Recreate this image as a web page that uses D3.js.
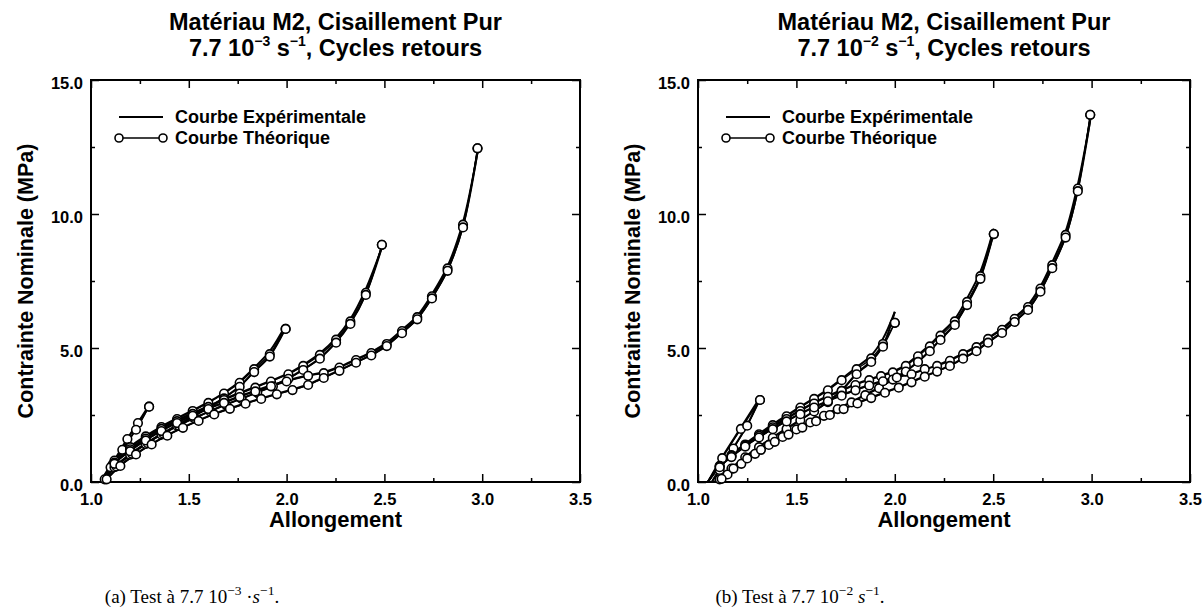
<!DOCTYPE html>
<html><head><meta charset="utf-8">
<script src="https://cdn.jsdelivr.net/npm/d3@7"></script>
<style>body{margin:0;background:#fff}svg{display:block}</style>
</head><body>
<svg id="c" width="1202" height="611"></svg>
<script>
// ---------- tick labels ----------
const xTicks = [1.0, 1.5, 2.0, 2.5, 3.0, 3.5];
const yTicks = [0, 5, 10, 15];
const xMinor = [1.25, 1.75, 2.25, 2.75, 3.25];
const yMinor = [2.5, 7.5, 12.5];

// ---------- Panel (a) 7.7e-3 s^-1 ----------
const lamA1L = [1.05,1.11,1.186,1.24,1.297];
const thA1L  = [0,0.65,1.6,2.2,2.81];
const exA1L  = [0,0.7,1.62,2.22,2.86];
const lamA1U = [1.297,1.23,1.16,1.1,1.05];
const thA1U  = [2.81,1.95,1.2,0.55,0];
const exA1U  = [2.86,1.98,1.22,0.57,0];

const lamA2L = [1.05,1.12,1.2,1.28,1.36,1.44,1.52,1.6,1.68,1.76,1.834,1.914,1.995];
const thA2L  = [0,0.8,1.3,1.7,2.05,2.35,2.65,2.95,3.3,3.7,4.21,4.77,5.71];
const exA2L  = [0,0.82,1.32,1.72,2.07,2.38,2.68,2.98,3.33,3.75,4.26,4.88,5.85];
const lamA2U = [1.995,1.914,1.834,1.76,1.68,1.6,1.52,1.44,1.36,1.28,1.2,1.12,1.06];
const thA2U  = [5.71,4.68,4.1,3.55,3.12,2.76,2.42,2.1,1.77,1.42,1.02,0.55,0.05];
const exA2U  = [5.85,4.72,4.13,3.57,3.14,2.78,2.44,2.12,1.79,1.44,1.04,0.57,0.06];

const lamA3L = [1.05,1.12,1.2,1.28,1.36,1.44,1.52,1.6,1.68,1.76,1.84,1.92,2.009,2.085,2.17,2.253,2.326,2.405,2.487];
const thA3L  = [0,0.72,1.22,1.62,1.98,2.27,2.54,2.8,3.06,3.3,3.52,3.75,4.02,4.33,4.74,5.31,5.99,7.06,8.85];
const exA3L  = [0,0.74,1.24,1.64,2.0,2.3,2.57,2.83,3.09,3.33,3.55,3.78,4.05,4.37,4.8,5.38,6.08,7.2,8.75];
const lamA3U = [2.487,2.405,2.326,2.253,2.17,2.085,2.009,1.93,1.85,1.77,1.69,1.61,1.53,1.45,1.37,1.29,1.21,1.13,1.07];
const thA3U  = [8.85,6.98,5.9,5.2,4.6,4.18,3.85,3.57,3.33,3.1,2.88,2.63,2.38,2.1,1.8,1.45,1.05,0.58,0.1];
const exA3U  = [8.75,7.02,5.95,5.24,4.63,4.2,3.87,3.59,3.35,3.12,2.9,2.65,2.4,2.12,1.82,1.47,1.07,0.6,0.1];

const lamA4L = [1.05,1.12,1.2,1.28,1.36,1.44,1.52,1.6,1.68,1.76,1.84,1.92,2.0,2.11,2.19,2.27,2.355,2.433,2.512,2.59,2.668,2.743,2.823,2.902,2.976];
const thA4L  = [0,0.68,1.15,1.55,1.9,2.2,2.47,2.72,2.95,3.17,3.38,3.57,3.75,3.96,4.06,4.27,4.55,4.81,5.15,5.63,6.15,6.93,7.97,9.6,12.45];
const exA4L  = [0,0.7,1.17,1.57,1.92,2.22,2.5,2.75,2.98,3.2,3.41,3.6,3.78,3.98,4.1,4.3,4.58,4.85,5.2,5.68,6.2,7.0,8.05,9.7,12.3];
const lamA4U = [2.976,2.902,2.823,2.743,2.668,2.59,2.512,2.433,2.355,2.27,2.19,2.11,2.03,1.95,1.87,1.79,1.71,1.63,1.55,1.47,1.39,1.31,1.23,1.15,1.08];
const thA4U  = [12.45,9.5,7.88,6.85,6.07,5.55,5.07,4.72,4.45,4.15,3.88,3.62,3.43,3.27,3.1,2.92,2.73,2.52,2.28,2.02,1.73,1.4,1.03,0.6,0.1];
const exA4U  = [12.3,9.55,7.92,6.88,6.1,5.58,5.1,4.75,4.47,4.17,3.9,3.64,3.45,3.29,3.12,2.94,2.75,2.54,2.3,2.04,1.75,1.42,1.05,0.62,0.1];

// ---------- Panel (b) 7.7e-2 s^-1 ----------
const lamB1L = [1.05,1.123,1.218,1.315];
const thB1L  = [0,0.89,1.98,3.06];
const exB1L  = [0,0.93,2.03,3.15];
const lamB1U = [1.315,1.25,1.18,1.11,1.07];
const thB1U  = [3.06,2.1,1.25,0.45,0];
const exB1U  = [3.15,2.13,1.28,0.48,0];

const lamB2L = [1.05,1.11,1.17,1.24,1.31,1.38,1.45,1.52,1.59,1.66,1.73,1.806,1.88,1.94,2.0];
const thB2L  = [0,0.6,1.0,1.4,1.78,2.12,2.45,2.78,3.1,3.42,3.8,4.21,4.61,5.15,5.94];
const exB2L  = [0,0.62,1.03,1.43,1.8,2.15,2.48,2.81,3.13,3.46,3.85,4.28,4.72,5.35,6.35];
const lamB2U = [2.0,1.94,1.88,1.806,1.73,1.66,1.59,1.52,1.45,1.38,1.31,1.24,1.17,1.11,1.08];
const thB2U  = [5.94,5.05,4.48,4.02,3.4,2.98,2.63,2.3,1.98,1.65,1.3,0.92,0.5,0.1,0];
const exB2U  = [6.35,5.1,4.52,4.05,3.42,3.0,2.65,2.32,2.0,1.67,1.32,0.94,0.52,0.12,0];

const lamB3L = [1.05,1.11,1.17,1.24,1.31,1.38,1.45,1.52,1.59,1.66,1.73,1.8,1.87,1.93,1.99,2.056,2.118,2.178,2.232,2.305,2.367,2.435,2.503];
const thB3L  = [0,0.58,0.97,1.36,1.72,2.04,2.35,2.65,2.93,3.18,3.4,3.62,3.8,3.95,4.09,4.33,4.69,5.06,5.46,5.99,6.72,7.68,9.25];
const exB3L  = [0,0.6,1.0,1.38,1.74,2.07,2.38,2.68,2.96,3.21,3.43,3.65,3.83,3.98,4.12,4.37,4.74,5.12,5.53,6.08,6.85,7.85,9.45];
const lamB3U = [2.503,2.435,2.367,2.305,2.232,2.178,2.118,2.056,1.99,1.92,1.85,1.78,1.71,1.64,1.57,1.5,1.43,1.36,1.29,1.22,1.15,1.09];
const thB3U  = [9.25,7.58,6.6,5.86,5.3,4.88,4.48,4.12,3.82,3.5,3.24,2.97,2.72,2.47,2.22,1.96,1.68,1.38,1.05,0.68,0.28,0];
const exB3U  = [9.45,7.65,6.65,5.9,5.33,4.9,4.5,4.14,3.84,3.52,3.26,2.99,2.74,2.49,2.24,1.98,1.7,1.4,1.07,0.7,0.3,0];

const lamB4L = [1.05,1.11,1.17,1.24,1.31,1.38,1.45,1.52,1.59,1.66,1.73,1.8,1.87,1.94,2.01,2.085,2.152,2.215,2.28,2.347,2.415,2.474,2.545,2.609,2.677,2.74,2.8,2.868,2.93,2.993];
const thB4L  = [0,0.55,0.93,1.32,1.66,1.97,2.26,2.53,2.78,3.01,3.22,3.42,3.6,3.76,3.9,4.02,4.21,4.33,4.52,4.77,5.03,5.34,5.68,6.09,6.53,7.22,8.09,9.22,10.95,13.7];
const exB4L  = [0,0.57,0.95,1.34,1.68,1.99,2.28,2.55,2.8,3.03,3.24,3.44,3.62,3.78,3.92,4.05,4.2,4.36,4.56,4.8,5.07,5.38,5.73,6.14,6.6,7.3,8.2,9.35,11.1,13.5];
const lamB4U = [2.993,2.93,2.868,2.8,2.74,2.677,2.609,2.545,2.474,2.415,2.347,2.28,2.215,2.152,2.085,2.02,1.95,1.88,1.81,1.74,1.67,1.6,1.53,1.46,1.39,1.32,1.25,1.18,1.12,1.1];
const thB4U  = [13.7,10.85,9.12,7.98,7.1,6.42,5.97,5.56,5.2,4.88,4.6,4.33,4.12,3.93,3.72,3.52,3.33,3.13,2.93,2.72,2.5,2.27,2.03,1.77,1.5,1.2,0.88,0.5,0.12,0];
const exB4U  = [13.5,10.9,9.16,8.02,7.13,6.45,6.0,5.59,5.23,4.9,4.62,4.35,4.14,3.95,3.74,3.54,3.35,3.15,2.95,2.74,2.52,2.29,2.05,1.79,1.52,1.22,0.9,0.52,0.14,0];

const legendLabels = ["Courbe Expérimentale", "Courbe Théorique"];
const xTitle = "Allongement";
const yTitle = "Contrainte Nominale (MPa)";

// ---------- build ----------
const zip = (l, s) => l.map((v, i) => [v, s[i]]);
const panelA = {
  exp: [[lamA1L,exA1L],[lamA1U,exA1U],[lamA2L,exA2L],[lamA2U,exA2U],[lamA3L,exA3L],[lamA3U,exA3U],[lamA4L,exA4L],[lamA4U,exA4U]],
  th:  [[lamA1L,thA1L],[lamA1U,thA1U],[lamA2L,thA2L],[lamA2U,thA2U],[lamA3L,thA3L],[lamA3U,thA3U],[lamA4L,thA4L],[lamA4U,thA4U]],
  exp1: "\u22123", caption: ["(a) Test à 7.7 10", "\u22123", " \u00b7", "s", "\u22121", "."]
};
const panelB = {
  exp: [[lamB1L,exB1L],[lamB1U,exB1U],[lamB2L,exB2L],[lamB2U,exB2U],[lamB3L,exB3L],[lamB3U,exB3U],[lamB4L,exB4L],[lamB4U,exB4U]],
  th:  [[lamB1L,thB1L],[lamB1U,thB1U],[lamB2L,thB2L],[lamB2U,thB2U],[lamB3L,thB3L],[lamB3U,thB3U],[lamB4L,thB4L],[lamB4U,thB4U]],
  exp1: "\u22122", caption: ["(b) Test à 7.7 10", "\u22122", "  ", "s", "\u22121", "."]
};

const svg = d3.select("#c");
const SANS = "'Liberation Sans', Arial, Helvetica, sans-serif";
const SERIF = "'Liberation Serif', 'Times New Roman', serif";

function drawPanel(p, left, right, capX) {
  const top = 80, bottom = 482;
  const x = d3.scaleLinear().domain([1.0, 3.5]).range([left, right]);
  const y = d3.scaleLinear().domain([0, 15]).range([bottom, top]);
  const g = svg.append("g");
  const cx = (left + right) / 2;

  // title
  g.append("text").attr("x", cx).attr("y", 30).attr("text-anchor", "middle")
    .attr("font-family", SANS).attr("font-weight", "bold").attr("font-size", 23.5)
    .text("Matériau M2, Cisaillement Pur");
  const t2 = g.append("text").attr("x", cx).attr("y", 56).attr("text-anchor", "middle")
    .attr("font-family", SANS).attr("font-weight", "bold").attr("font-size", 23.5);
  t2.append("tspan").text("7.7 10");
  t2.append("tspan").attr("dy", -10).attr("font-size", 14).text(p.exp1);
  t2.append("tspan").attr("dy", 10).text(" s");
  t2.append("tspan").attr("dy", -10).attr("font-size", 14).text("\u22121");
  t2.append("tspan").attr("dy", 10).text(", Cycles retours");

  // axes with inward ticks on all sides
  const axB = d3.axisBottom(x).tickValues(xTicks).tickSize(-8).tickFormat(d3.format(".1f"));
  const axT = d3.axisTop(x).tickValues(xTicks).tickSize(-8).tickFormat("");
  const axL = d3.axisLeft(y).tickValues(yTicks).tickSize(-8).tickFormat(d3.format(".1f"));
  const axR = d3.axisRight(y).tickValues(yTicks).tickSize(-8).tickFormat("");
  const mB = d3.axisBottom(x).tickValues(xMinor).tickSize(-4).tickFormat("");
  const mT = d3.axisTop(x).tickValues(xMinor).tickSize(-4).tickFormat("");
  const mL = d3.axisLeft(y).tickValues(yMinor).tickSize(-4).tickFormat("");
  const mR = d3.axisRight(y).tickValues(yMinor).tickSize(-4).tickFormat("");
  const style = sel => {
    sel.select(".domain").remove();
    sel.selectAll("line").attr("stroke", "#000").attr("stroke-width", 1.5);
    sel.selectAll("text").attr("font-family", SANS).attr("font-weight", "bold")
      .attr("font-size", 16.5).attr("fill", "#000");
  };
  g.append("g").attr("transform", `translate(0,${bottom})`).call(axB).call(style)
    .selectAll("text").attr("dy", 0).attr("y", 23);
  g.append("g").attr("transform", `translate(0,${top})`).call(axT).call(style);
  g.append("g").attr("transform", `translate(${left},0)`).call(axL).call(style)
    .selectAll("text").attr("x", -8).attr("dy", 8);
  g.append("g").attr("transform", `translate(${right},0)`).call(axR).call(style);
  g.append("g").attr("transform", `translate(0,${bottom})`).call(mB).call(style);
  g.append("g").attr("transform", `translate(0,${top})`).call(mT).call(style);
  g.append("g").attr("transform", `translate(${left},0)`).call(mL).call(style);
  g.append("g").attr("transform", `translate(${right},0)`).call(mR).call(style);

  g.append("rect").attr("x", left).attr("y", top).attr("width", right - left)
    .attr("height", bottom - top).attr("fill", "none").attr("stroke", "#000").attr("stroke-width", 2);

  // axis titles
  g.append("text").attr("x", cx).attr("y", 527).attr("text-anchor", "middle")
    .attr("font-family", SANS).attr("font-weight", "bold").attr("font-size", 22).text(xTitle);
  g.append("text").attr("transform", `translate(${left - 58},${(top + bottom) / 2}) rotate(-90)`)
    .attr("text-anchor", "middle").attr("font-family", SANS).attr("font-weight", "bold")
    .attr("font-size", 21.5).text(yTitle);

  // curves
  const line = d3.line().x(d => x(d[0])).y(d => y(d[1])).curve(d3.curveCatmullRom.alpha(0.5));
  const plot = g.append("g");
  p.exp.forEach(([l, s]) => {
    plot.append("path").attr("d", line(zip(l, s))).attr("fill", "none")
      .attr("stroke", "#000").attr("stroke-width", 2);
  });
  p.th.forEach(([l, s]) => {
    plot.append("path").attr("d", line(zip(l, s))).attr("fill", "none")
      .attr("stroke", "#000").attr("stroke-width", 1.3);
  });
  p.th.forEach(([l, s]) => {
    const pts = zip(l, s).filter(d => d[1] > 0.05);
    plot.selectAll(null).data(pts).enter().append("circle")
      .attr("cx", d => x(d[0])).attr("cy", d => y(d[1])).attr("r", 4.3)
      .attr("fill", "#fff").attr("stroke", "#000").attr("stroke-width", 1.6);
  });

  // legend
  const lx = left + 28;
  const lg = g.append("g");
  lg.append("line").attr("x1", lx).attr("x2", lx + 44).attr("y1", 117).attr("y2", 117)
    .attr("stroke", "#000").attr("stroke-width", 2);
  lg.append("text").attr("x", lx + 56).attr("y", 123).attr("font-family", SANS)
    .attr("font-weight", "bold").attr("font-size", 18).text(legendLabels[0]);
  lg.append("line").attr("x1", lx).attr("x2", lx + 44).attr("y1", 138).attr("y2", 138)
    .attr("stroke", "#000").attr("stroke-width", 1.3);
  [lx, lx + 44].forEach(c => lg.append("circle").attr("cx", c).attr("cy", 138).attr("r", 4)
    .attr("fill", "#fff").attr("stroke", "#000").attr("stroke-width", 1.6));
  lg.append("text").attr("x", lx + 56).attr("y", 144).attr("font-family", SANS)
    .attr("font-weight", "bold").attr("font-size", 18).text(legendLabels[1]);

  // caption
  const c = g.append("text").attr("x", capX).attr("y", 603).attr("text-anchor", "middle")
    .attr("font-family", SERIF).attr("font-size", 19);
  c.append("tspan").text(p.caption[0]);
  c.append("tspan").attr("dy", -8).attr("font-size", 13.5).text(p.caption[1]);
  c.append("tspan").attr("dy", 8).text(p.caption[2]);
  c.append("tspan").attr("font-style", "italic").text(p.caption[3]);
  c.append("tspan").attr("dy", -8).attr("font-size", 13.5).text(p.caption[4]);
  c.append("tspan").attr("dy", 8).text(p.caption[5]);
}

drawPanel(panelA, 91, 580, 192);
drawPanel(panelB, 698, 1190, 800);
</script>
</body></html>
